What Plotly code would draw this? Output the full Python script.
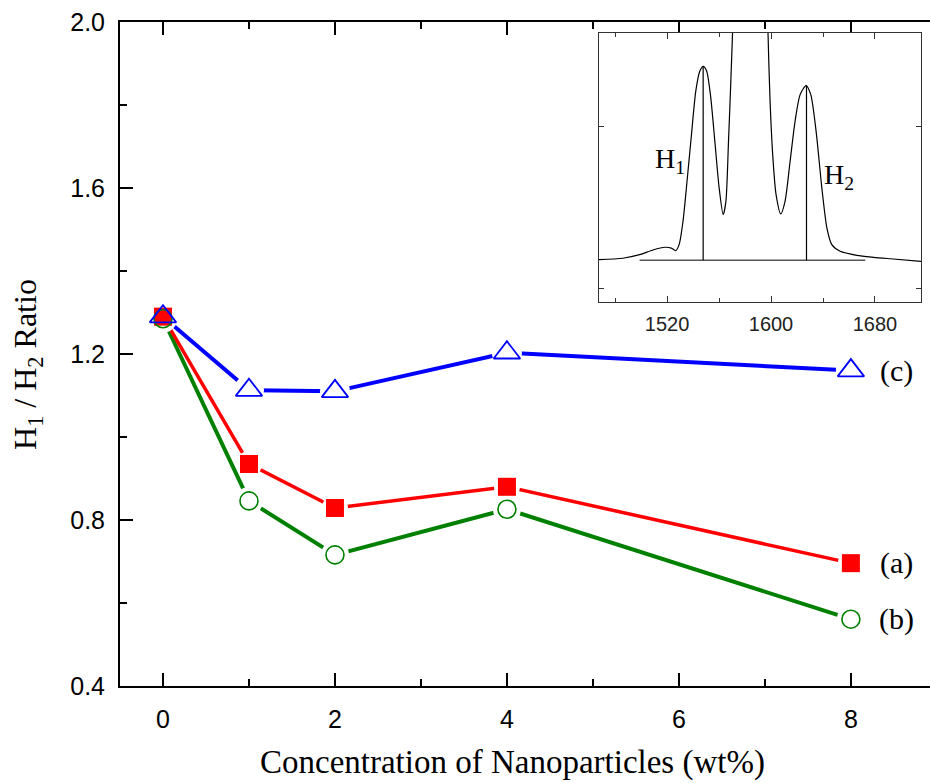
import plotly.graph_objects as go

# ---- main data ----
conc = [0, 1, 2, 4, 8]
ratio_a = [1.29, 0.935, 0.829, 0.880, 0.696]   # red squares
ratio_b = [1.285, 0.846, 0.716, 0.826, 0.561]  # green circles
ratio_c = [1.29, 1.113, 1.110, 1.203, 1.160]   # blue triangles
series_labels = ["(a)", "(b)", "(c)"]

x_ticks = [0, 2, 4, 6, 8]
y_ticks = [0.4, 0.8, 1.2, 1.6, 2.0]

# ---- inset spectrum ----
wn = [1467.5, 1486.0, 1498.9, 1509.2, 1518.2, 1523.3, 1526.7, 1529.3, 1532.3, 1535.4,
      1538.8, 1542.1, 1545.2, 1547.8, 1550.4, 1553.4, 1556.8, 1560.1, 1563.2, 1565.3,
      1567.3, 1568.9, 1570.4, 1572.2, 1584.3, 1596.7, 1597.7, 1599.2, 1601.3, 1603.9,
      1607.5, 1610.8, 1614.7, 1618.5, 1622.4, 1627.0, 1630.6, 1634.7, 1639.1, 1643.0,
      1646.8, 1653.2, 1666.1, 1678.9, 1691.8, 1715.7]
inten = [0.175, 0.184, 0.206, 0.235, 0.252, 0.247, 0.231, 0.268, 0.412, 0.660,
         0.948, 1.216, 1.340, 1.371, 1.344, 1.196, 0.907, 0.619, 0.454, 0.536,
         0.907, 1.237, 1.577, 2.10, 2.93, 2.10, 1.577, 1.175, 0.825, 0.577,
         0.458, 0.536, 0.784, 1.031, 1.196, 1.252, 1.196, 0.969, 0.619, 0.371,
         0.268, 0.227, 0.202, 0.190, 0.181, 0.165]
h1_pos = [1547.8, 1547.8]
h1_int = [0.171, 1.371]
h2_pos = [1627.3, 1627.3]
h2_int = [0.171, 1.252]
base_pos = [1498.9, 1672.5]
base_int = [0.171, 0.171]
inset_labels = ["H<sub>1</sub>", "H<sub>2</sub>"]
inset_label_x = [1522, 1652]
inset_label_y = [0.79, 0.69]
inset_x_ticks = [1520, 1600, 1680]

RED, GREEN, BLUE = "#FF0000", "#008000", "#0000FF"
SERIF = "Liberation Serif, Times New Roman, serif"
SANS = "Liberation Sans, Arial, sans-serif"

fig = go.Figure()

# lines
for ys, col, w in [(ratio_b, GREEN, 4), (ratio_a, RED, 3.5), (ratio_c, BLUE, 4)]:
    fig.add_trace(go.Scatter(x=conc, y=ys, mode="lines",
                             line=dict(color=col, width=w), showlegend=False,
                             hoverinfo="skip"))
# white halos to make gaps around markers
for ys, sz in [(ratio_a, 26), (ratio_b, 28), (ratio_c, 30)]:
    fig.add_trace(go.Scatter(x=conc, y=ys, mode="markers",
                             marker=dict(symbol="circle", size=sz, color="white",
                                         line=dict(width=0)),
                             showlegend=False, hoverinfo="skip"))
# markers
fig.add_trace(go.Scatter(x=conc, y=ratio_a, mode="markers", name=series_labels[0],
                         marker=dict(symbol="square", size=18, color=RED,
                                     line=dict(width=0)), showlegend=False))
fig.add_trace(go.Scatter(x=conc, y=ratio_b, mode="markers", name=series_labels[1],
                         marker=dict(symbol="circle-open", size=18, color=GREEN,
                                     line=dict(width=1.6, color=GREEN)), showlegend=False))
fig.add_trace(go.Scatter(x=conc, y=ratio_c, mode="markers", name=series_labels[2],
                         marker=dict(symbol="triangle-up-open", size=23, color=BLUE,
                                     line=dict(width=1.8, color=BLUE)), showlegend=False))

# inset traces
fig.add_trace(go.Scatter(x=base_pos, y=base_int, mode="lines", xaxis="x2", yaxis="y2",
                         line=dict(color="#555555", width=1.5), showlegend=False))
fig.add_trace(go.Scatter(x=wn, y=inten, mode="lines", xaxis="x2", yaxis="y2",
                         line=dict(color="black", width=1.2, shape="spline", smoothing=0.7),
                         showlegend=False))
fig.add_trace(go.Scatter(x=h1_pos, y=h1_int, mode="lines", xaxis="x2", yaxis="y2",
                         line=dict(color="black", width=1.2), showlegend=False))
fig.add_trace(go.Scatter(x=h2_pos, y=h2_int, mode="lines", xaxis="x2", yaxis="y2",
                         line=dict(color="black", width=1.2), showlegend=False))

annotations = []
# series labels at right
for lab, yv in zip(series_labels, [ratio_a[-1], ratio_b[-1], ratio_c[-1]]):
    annotations.append(dict(x=8.535, y=yv, xref="x", yref="y", text=lab, showarrow=False,
                            xanchor="center", yanchor="middle",
                            font=dict(family=SERIF, size=30, color="black")))
# inset labels
for lab, xv, yv in zip(inset_labels, inset_label_x, inset_label_y):
    annotations.append(dict(x=xv, y=yv, xref="x2", yref="y2", text=lab, showarrow=False,
                            xanchor="center", yanchor="middle",
                            font=dict(family=SERIF, size=28, color="black")))
# axis titles
annotations.append(dict(x=0.484, y=-0.115, xref="paper", yref="paper",
                        text="Concentration of Nanoparticles (wt%)", showarrow=False,
                        xanchor="center", yanchor="middle",
                        font=dict(family=SERIF, size=33, color="black")))
annotations.append(dict(x=-0.1136, y=0.485, xref="paper", yref="paper",
                        text="H<sub>1</sub> / H<sub>2</sub> Ratio", showarrow=False,
                        textangle=-90, xanchor="center", yanchor="middle",
                        font=dict(family=SERIF, size=32, color="black")))

fig.update_layout(
    width=930, height=783,
    margin=dict(l=120, r=0, t=22, b=97),
    paper_bgcolor="white", plot_bgcolor="white",
    showlegend=False,
    annotations=annotations,
    xaxis=dict(range=[-0.5, 8.92], tickmode="array", tickvals=x_ticks,
               ticktext=[str(v) for v in x_ticks],
               ticks="inside", ticklen=13, tickwidth=2, tickcolor="black",
               minor=dict(dtick=1, tick0=0, ticks="inside", ticklen=7, tickwidth=2,
                          tickcolor="black"),
               showline=True, linewidth=2, linecolor="black", mirror="ticks",
               showgrid=False, zeroline=False, ticklabelstandoff=10,
               tickfont=dict(family=SANS, size=25, color="black")),
    yaxis=dict(range=[0.4, 2.0], tickmode="array", tickvals=y_ticks,
               ticktext=["%.1f" % v for v in y_ticks],
               ticks="inside", ticklen=13, tickwidth=2, tickcolor="black",
               minor=dict(dtick=0.2, tick0=0.4, ticks="inside", ticklen=7, tickwidth=2,
                          tickcolor="black"),
               showline=True, linewidth=2, linecolor="black", mirror=False,
               showgrid=False, zeroline=False, ticklabelstandoff=8,
               tickfont=dict(family=SANS, size=25, color="black")),
    xaxis2=dict(domain=[0.5914, 0.9889], anchor="y2", range=[1467.7, 1715.4],
                tickmode="array", tickvals=inset_x_ticks,
                ticktext=[str(v) for v in inset_x_ticks],
                ticks="inside", ticklen=6, tickwidth=1, tickcolor="#333333",
                minor=dict(dtick=40, tick0=1480, ticks="inside", ticklen=4, tickwidth=1,
                           tickcolor="#333333"),
                showline=True, linewidth=1, linecolor="#333333", mirror="ticks",
                showgrid=False, zeroline=False, ticklabelstandoff=4,
                tickfont=dict(family=SANS, size=20, color="#222222")),
    yaxis2=dict(domain=[0.5783, 0.9834], anchor="x2", range=[-0.0866, 1.577],
                tickmode="array", tickvals=[0, 1], showticklabels=False,
                ticks="inside", ticklen=5, tickwidth=1, tickcolor="#333333",
                showline=True, linewidth=1, linecolor="#333333", mirror="ticks",
                showgrid=False, zeroline=False),
)

fig.write_html("out.html")
